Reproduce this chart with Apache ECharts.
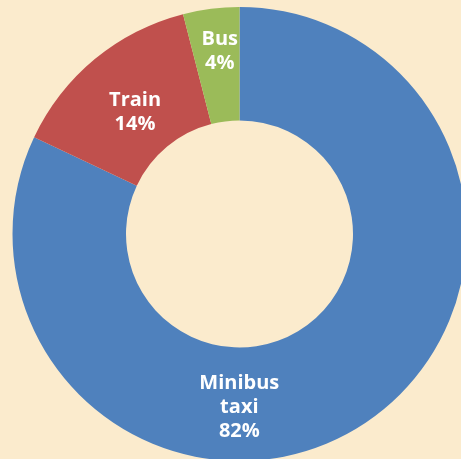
<!DOCTYPE html>
<html>
<head>
<meta charset="utf-8">
<script src="https://cdn.jsdelivr.net/npm/echarts@6/dist/echarts.min.js"></script>
<style>
  html, body { margin: 0; padding: 0; background: #FBEBCD; }
  #chart { width: 461px; height: 459px; }
</style>
</head>
<body>
<div id="chart"></div>
<script>
// Commuter transport mode share
const categories = ['Minibus\ntaxi', 'Train', 'Bus'];
const shares = [82, 14, 4];
const colors = ['#4F81BD', '#C0504D', '#9BBB59'];
// Nudges applied to each label from its default in-ring spot
const labelShift = [[-93, 27], [6, 12], [2, -11]];

const chart = echarts.init(document.getElementById('chart'), null, { renderer: 'canvas' });

chart.setOption({
  backgroundColor: '#FBEBCD',
  animation: false,
  series: [{
    type: 'pie',
    center: [239.5, 234],
    radius: [113.5, 227],
    startAngle: 90,
    clockwise: true,
    avoidLabelOverlap: false,
    label: {
      show: true,
      position: 'inside',
      formatter: p => p.name + '\n' + p.value + '%',
      color: '#FFFFFF',
      fontFamily: 'Open Sans',
      fontWeight: 'bold',
      fontSize: 20,
      lineHeight: 24,
      align: 'center'
    },
    labelLine: { show: false },
    labelLayout: p => ({ dx: labelShift[p.dataIndex][0], dy: labelShift[p.dataIndex][1] }),
    itemStyle: { borderWidth: 0 },
    emphasis: { disabled: true },
    data: categories.map((c, i) => ({
      name: c,
      value: shares[i],
      itemStyle: { color: colors[i] }
    }))
  }]
});
</script>
</body>
</html>
